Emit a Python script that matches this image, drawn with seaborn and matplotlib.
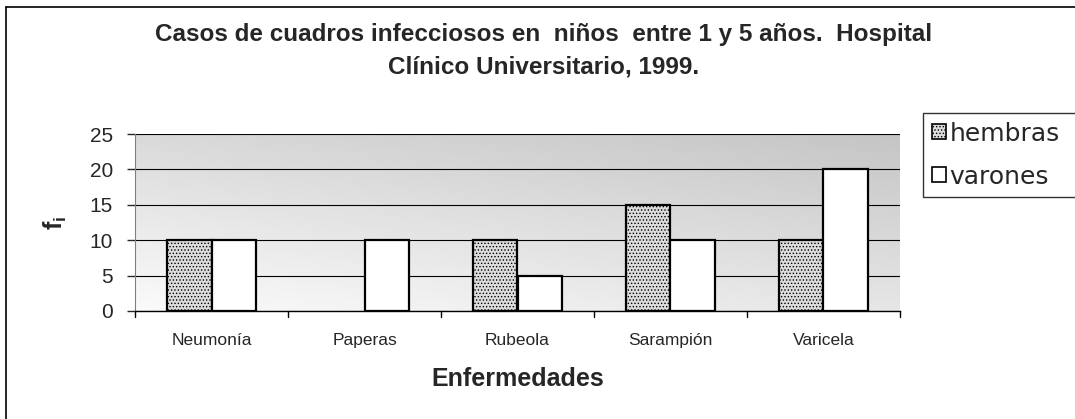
import numpy as np
import pandas as pd
import matplotlib
matplotlib.use("Agg")
import matplotlib.pyplot as plt
from matplotlib.lines import Line2D
from matplotlib.patches import Patch
import seaborn as sns

enfermedades = ["Neumonía", "Paperas", "Rubeola", "Sarampión", "Varicela"]
hembras = [10, 0, 10, 15, 10]
varones = [10, 10, 5, 10, 20]
series = ["hembras", "varones"]

df = pd.DataFrame({
    "Enfermedades": enfermedades * 2,
    "fi": hembras + varones,
    "sexo": [series[0]] * 5 + [series[1]] * 5,
})

sns.set_style("white")
plt.rcParams["font.family"] = ["Liberation Sans", "DejaVu Sans"]
plt.rcParams["hatch.color"] = "#707070"
plt.rcParams["hatch.linewidth"] = 0.6

fig = plt.figure(figsize=(10.75, 4.19), dpi=100)
ax = fig.add_axes([135/1075, 1-311/419, 765/1075, 177/419])

sns.barplot(data=df, x="Enfermedades", y="fi", hue="sexo", ax=ax,
            width=0.58, palette=["#dcdcdc", "white"], edgecolor="black",
            linewidth=1.6, legend=False, zorder=3)
for bar in ax.patches[:5]:
    bar.set_hatch(".....")
    if bar.get_height() == 0:
        bar.set_visible(False)

ax.set_ylim(0, 25)
ax.set_xlim(-0.5, 4.5)
ax.set_yticks([0, 5, 10, 15, 20, 25])
ax.tick_params(axis="y", labelsize=15, length=6, width=1, direction="out", left=True, pad=10)
ax.tick_params(axis="x", labelsize=12.5, length=0, pad=16)
ax.yaxis.grid(True, color="black", linewidth=0.8, zorder=1)
ax.set_axisbelow(True)

# gradient background, darker at top-right
gy, gx = np.mgrid[0:1:100j, 0:1:100j]
grad = 0.98 - 0.13 * gy - 0.08 * gx
ax.imshow(grad, cmap="gray", vmin=0, vmax=1, aspect="auto", origin="lower",
          extent=(-0.5, 4.5, 0, 25), zorder=0)

for s in ["top", "right"]:
    ax.spines[s].set_visible(False)
ax.spines["left"].set_color("#808080")
ax.spines["bottom"].set_color("black")
ax.spines["bottom"].set_linewidth(1.0)
# category separator ticks on x axis
for xb in np.arange(-0.5, 5, 1):
    ax.plot([xb, xb], [0, -0.8], color="black", lw=1, clip_on=False)

ax.set_xlabel("Enfermedades", fontsize=18, fontweight="bold", va="center")
ax.xaxis.set_label_coords(0.5, (311-379)/177)
ax.set_ylabel("f$_\\mathregular{i}$", fontsize=18, fontweight="bold", va="center")
ax.yaxis.set_label_coords((55-135)/765, 0.5)

fig.text(544/1075, 1-34/419, "Casos de cuadros infecciosos en  niños  entre 1 y 5 años.  Hospital",
         ha="center", va="center", fontsize=17.5, fontweight="bold")
fig.text(544/1075, 1-67/419, "Clínico Universitario, 1999.",
         ha="center", va="center", fontsize=17.5, fontweight="bold")

handles = [Patch(facecolor="#dcdcdc", edgecolor="black", hatch=".....", lw=1.2),
           Patch(facecolor="white", edgecolor="black", lw=1.2)]
leg = fig.legend(handles, series, loc="upper left",
                 bbox_to_anchor=(923/1075, 1-197/419, 170/1075, 84/419), mode="expand",
                 prop={"family": "DejaVu Sans", "size": 18},
                 frameon=True, fancybox=False, edgecolor="black",
                 handlelength=0.55, handleheight=0.55, handletextpad=0.15,
                 borderpad=0.35, labelspacing=0.75, borderaxespad=0)
leg.get_frame().set_linewidth(1)

# outer chart frame (cropped on the right and bottom)
fig.add_artist(Line2D([6/1075, 6/1075], [0, 1-7/419], color="black", lw=1.2))
fig.add_artist(Line2D([6/1075, 1], [1-7/419, 1-7/419], color="black", lw=1.2))

plt.savefig("out.png", dpi=100)
